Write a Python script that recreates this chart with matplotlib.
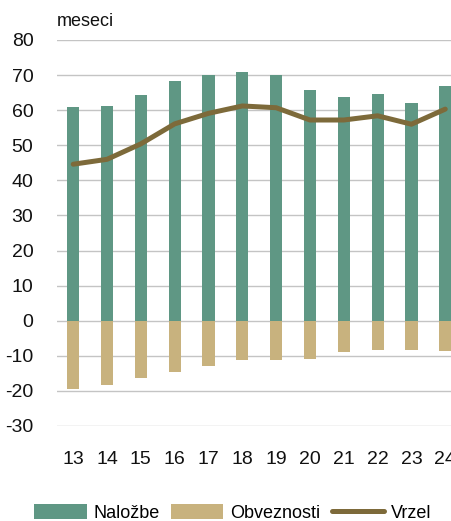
import matplotlib
matplotlib.use("Agg")
import matplotlib.pyplot as plt
import numpy as np

plt.rcParams['font.family'] = ['Liberation Sans', 'DejaVu Sans']

categories = ["13", "14", "15", "16", "17", "18", "19", "20", "21", "22", "23", "24"]
nalozbe = [60.8, 61.3, 64.3, 68.4, 70.1, 70.8, 70.0, 65.8, 63.8, 64.7, 62.0, 67.0]
obveznosti = [-19.5, -18.3, -16.3, -14.6, -13.0, -11.2, -11.1, -10.9, -8.8, -8.3, -8.3, -8.5]
vrzel = [44.6, 46.0, 50.4, 56.1, 59.1, 61.2, 60.7, 57.2, 57.2, 58.4, 56.0, 60.3]
yticks = [80, 70, 60, 50, 40, 30, 20, 10, 0, -10, -20, -30]

c_green = "#5f9784"
c_tan = "#c8b27e"
c_line = "#7d6a3a"

W, H = 451, 521
fig = plt.figure(figsize=(W / 100, H / 100), dpi=100)
ax = fig.add_axes([57 / W, (H - 426) / H, (W - 57) / W, (426 - 40) / H])

x = np.arange(len(categories))
b1 = ax.bar(x, nalozbe, width=0.36, color=c_green, label="Naložbe", zorder=2)
b2 = ax.bar(x, obveznosti, width=0.36, color=c_tan, label="Obveznosti", zorder=2)
l1, = ax.plot(x, vrzel, color=c_line, linewidth=3.6, label="Vrzel", zorder=3,
              solid_capstyle='round', solid_joinstyle='round')

ax.set_ylim(-30, 80)
ax.set_xlim(-0.48, 11.17)
ax.set_yticks(yticks)
ax.set_yticklabels([str(v) for v in yticks])
ax.set_xticks(x)
ax.set_xticklabels(categories)
ax.yaxis.grid(True, color="#c4c4c4", linewidth=1.0, zorder=0)
ax.set_axisbelow(True)
for s in ax.spines.values():
    s.set_visible(False)
ax.tick_params(axis='both', length=0, labelsize=14, colors="#111111")
ax.tick_params(axis='y', pad=17)
ax.tick_params(axis='x', pad=18)

fig.text(57 / W, 1 - 22 / H, "meseci", fontsize=13, va='center', ha='left', color="#111111")

fig.legend(handles=[b1, b2, l1], labels=["Naložbe", "Obveznosti", "Vrzel"],
           loc='center', bbox_to_anchor=(233 / W, 1 - 513 / H), ncol=3, frameon=False,
           fontsize=13, handlelength=2.9, handleheight=0.9, handletextpad=0.4,
           columnspacing=0.6, borderpad=0, borderaxespad=0)

fig.savefig("out.png", dpi=100)
